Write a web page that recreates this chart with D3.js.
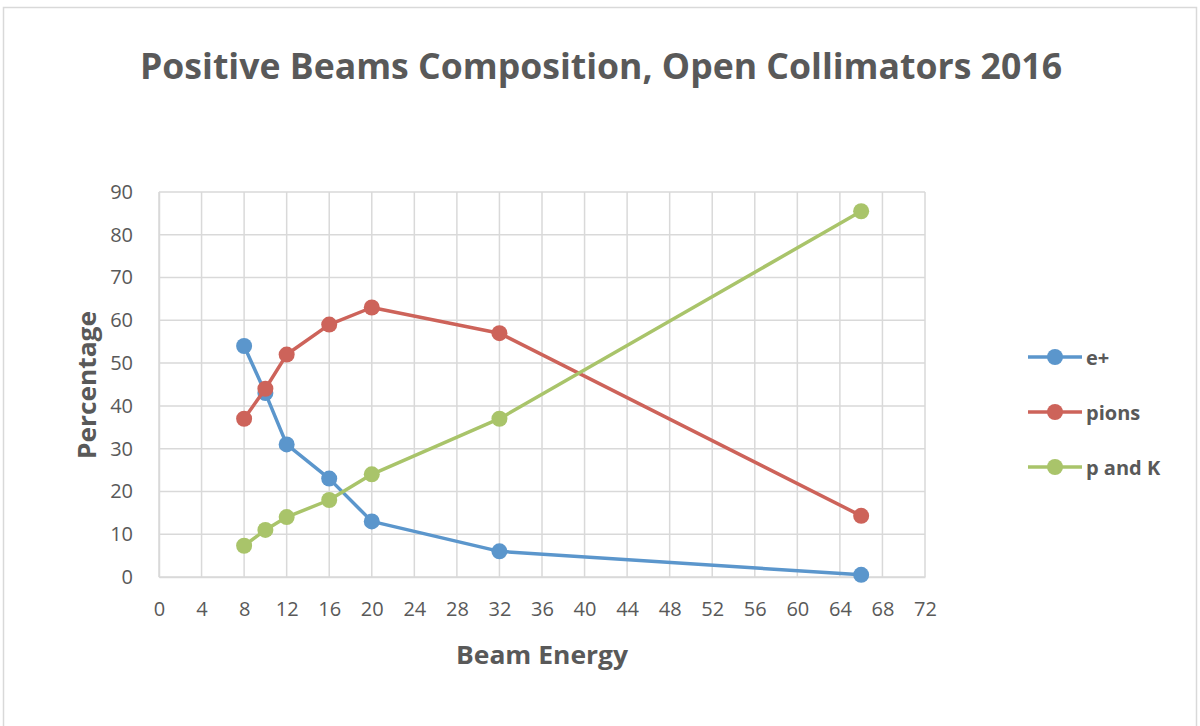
<!DOCTYPE html>
<html>
<head>
<meta charset="utf-8">
<script src="https://cdn.jsdelivr.net/npm/d3@7"></script>
<style>
  body { margin: 0; background: #fff; }
  text { font-family: "Open Sans", "Liberation Sans", sans-serif; fill: #595959; }
</style>
</head>
<body>
<div id="chart"></div>
<script>
const energies = [8, 10, 12, 16, 20, 32, 66];
const ePlus = [54, 43, 31, 23, 13, 6, 0.5];
const pions = [37, 44, 52, 59, 63, 57, 14.3];
const pAndK = [7.3, 11, 14, 18, 24, 37, 85.5];
const seriesNames = ['e+', 'pions', 'p and K'];
const xTicks = d3.range(0, 73, 4);
const yTicks = d3.range(0, 91, 10);

const colors = ['#5b96cc', '#cd635a', '#a9c46a'];
const width = 1200, height = 726;
const plot = {left: 159, right: 925, top: 192, bottom: 577};

const svg = d3.select('#chart').append('svg')
  .attr('width', width).attr('height', height);

// chart border
svg.append('rect').attr('x', 3.5).attr('y', 7.5).attr('width', 1193).attr('height', 730)
  .attr('fill', '#fff').attr('stroke', '#d9d9d9').attr('stroke-width', 1.5);

const x = d3.scaleLinear().domain([0, 72]).range([plot.left, plot.right]);
const y = d3.scaleLinear().domain([0, 90]).range([plot.bottom, plot.top]);

// GRID
svg.append('g').selectAll('line').data(xTicks).enter().append('line')
  .attr('x1', d => x(d)).attr('x2', d => x(d))
  .attr('y1', plot.top).attr('y2', plot.bottom)
  .attr('stroke', '#d9d9d9').attr('stroke-width', 1.5);
svg.append('g').selectAll('line').data(yTicks).enter().append('line')
  .attr('x1', plot.left).attr('x2', plot.right)
  .attr('y1', d => y(d)).attr('y2', d => y(d))
  .attr('stroke', '#d9d9d9').attr('stroke-width', 1.5);

// AXES
const gx = svg.append('g').attr('transform', `translate(0,${plot.bottom})`)
  .call(d3.axisBottom(x).tickValues(xTicks).tickSize(0).tickPadding(25));
gx.select('.domain').attr('stroke', '#d9d9d9').attr('stroke-width', 1.5);
gx.selectAll('text').attr('font-size', 20).style('fill', '#595959');

const gy = svg.append('g').attr('transform', `translate(${plot.left},0)`)
  .call(d3.axisLeft(y).tickValues(yTicks).tickSize(0).tickPadding(26));
gy.select('.domain').attr('stroke', '#d9d9d9').attr('stroke-width', 1.5);
gy.selectAll('text').attr('font-size', 20).style('fill', '#595959');

// TITLES
svg.append('text').attr('x', 601).attr('y', 79).attr('text-anchor', 'middle')
  .attr('font-size', 35).attr('font-weight', 'bold')
  .attr('textLength', 922).attr('lengthAdjust', 'spacingAndGlyphs')
  .text('Positive Beams Composition, Open Collimators 2016');
svg.append('text').attr('x', 542).attr('y', 664).attr('text-anchor', 'middle')
  .attr('font-size', 25).attr('font-weight', 'bold')
  .attr('textLength', 172).attr('lengthAdjust', 'spacingAndGlyphs')
  .text('Beam Energy');
svg.append('text').attr('transform', 'translate(96,385) rotate(-90)').attr('text-anchor', 'middle')
  .attr('font-size', 25).attr('font-weight', 'bold')
  .attr('textLength', 148).attr('lengthAdjust', 'spacingAndGlyphs')
  .text('Percentage');

// SERIES
const series = [ePlus, pions, pAndK].map((vals, i) => ({
  name: seriesNames[i],
  color: colors[i],
  points: energies.map((e, j) => ({e, v: vals[j]}))
}));
const lineFun = d3.line().x(d => x(d.e)).y(d => y(d.v));
series.forEach(s => {
  const g = svg.append('g');
  g.append('path').attr('d', lineFun(s.points)).attr('fill', 'none')
    .attr('stroke', s.color).attr('stroke-width', 3.5).attr('stroke-linejoin', 'round');
  g.selectAll('circle').data(s.points).enter().append('circle')
    .attr('cx', d => x(d.e)).attr('cy', d => y(d.v)).attr('r', 8).attr('fill', s.color);
});

// LEGEND
const legend = svg.append('g').selectAll('g').data(series).enter().append('g')
  .attr('transform', (d, i) => `translate(0,${357 + i * 55})`);
legend.append('line').attr('x1', 1028).attr('x2', 1082)
  .attr('stroke', d => d.color).attr('stroke-width', 3.5);
legend.append('circle').attr('cx', 1055).attr('r', 8).attr('fill', d => d.color);
legend.append('text').attr('x', 1086).attr('y', 8).attr('font-size', 20).attr('font-weight', 'bold')
  .text(d => d.name);
</script>
</body>
</html>
